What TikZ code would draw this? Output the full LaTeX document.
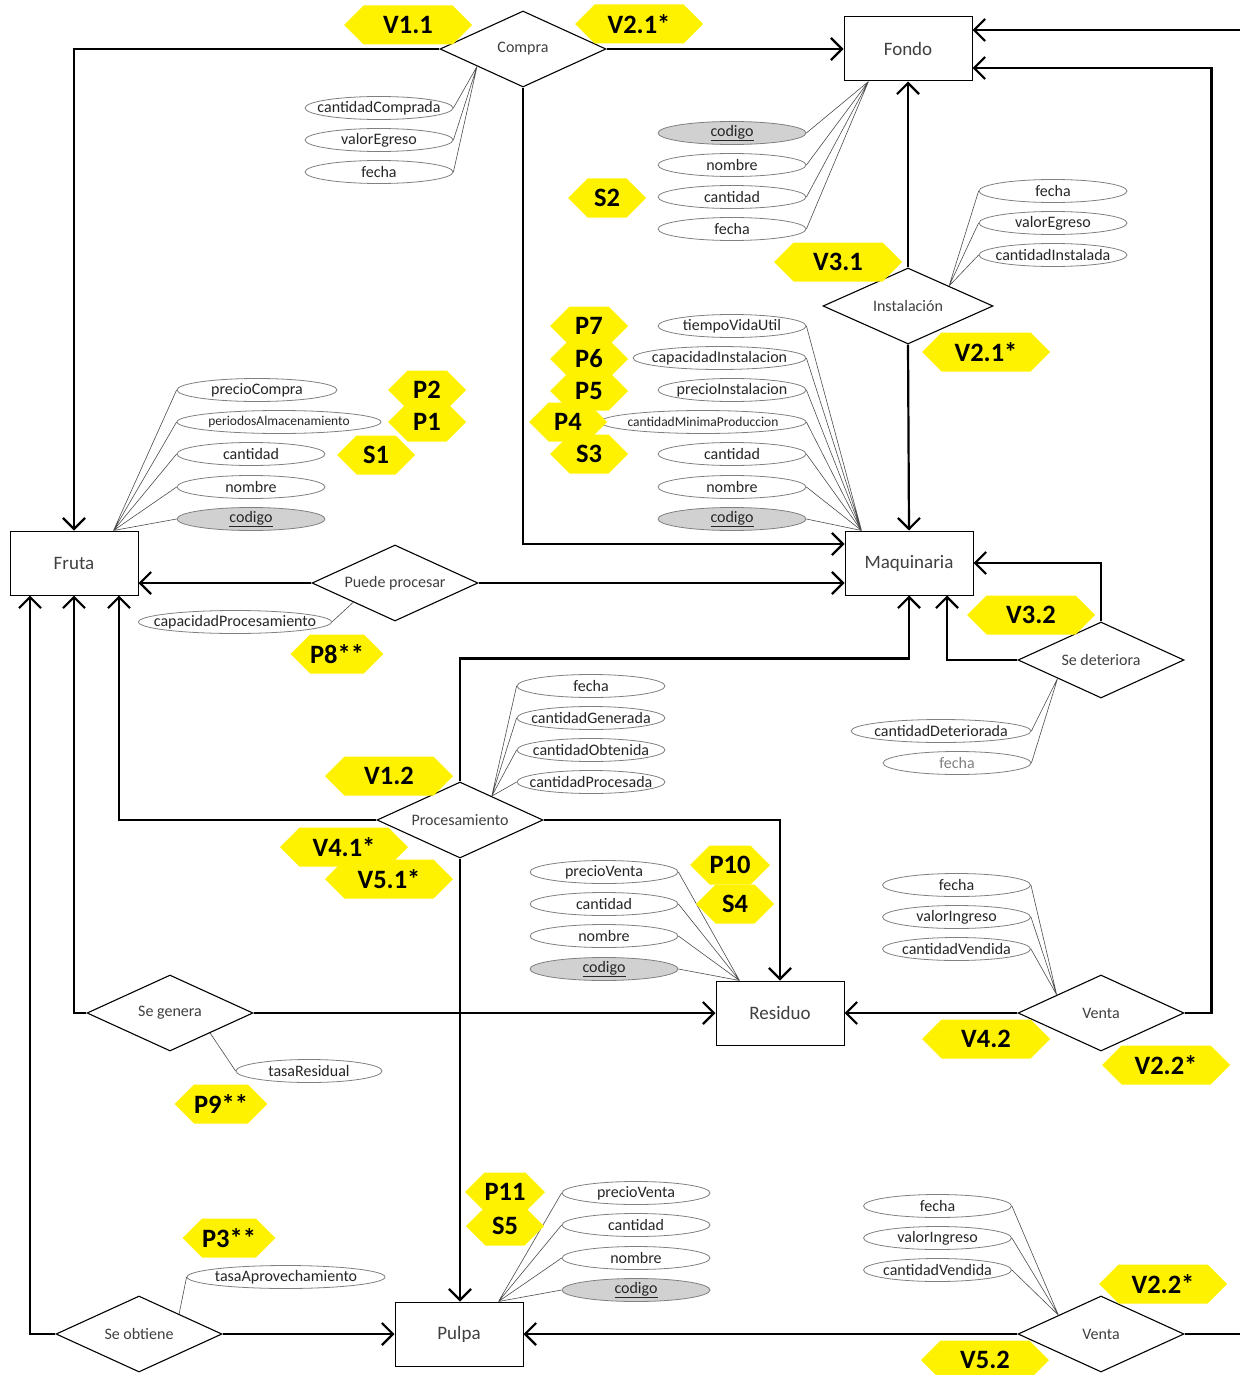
\documentclass[tikz,border=0pt]{standalone}
\usepackage{fontspec}
\setmainfont{Carlito}
\usetikzlibrary{shapes.geometric, shapes.symbols, arrows.meta, calc}
\tikzset{
  entidad/.style={draw, line width=1pt, fill=white, minimum width=128pt, minimum height=64pt, inner sep=0pt, text=black!75, font=\fontsize{19}{19}\selectfont},
  relacion/.style={diamond, draw, line width=1.1pt, fill=white, aspect=2.2, minimum width=166pt, minimum height=76pt, inner sep=0pt, text=black!75, font=\fontsize{16}{16}\selectfont},
  atributo/.style={ellipse, draw=black!50, line width=0.8pt, fill=white, minimum width=148pt, minimum height=23pt, inner xsep=-30pt, inner ysep=0pt, text=black!85, font=\fontsize{16}{16}\selectfont},
  clave/.style={atributo, fill=black!18},
  chico/.style={font=\fontsize{13.5}{13.5}\selectfont},
  enlace/.style={line width=2.2pt, -{Straight Barb[length=11pt, width=22pt]}},
  hilo/.style={draw=black!70, line width=0.6pt},
  marca/.style={signal, signal to=west and east, signal pointer angle=90, fill=yellow, minimum height=39pt, minimum width=128pt, inner sep=0pt, font=\fontsize{26.5}{26.5}\bfseries},
  marcachica/.style={marca, minimum width=78pt}
}

\begin{document}
\begin{tikzpicture}[x=1pt, y=-1pt]
  \useasboundingbox (0,0) rectangle (1239,1375);

  % Entidades
  \node[entidad] (fondo) at (908,49) {Fondo};
  \node[entidad] (fruta) at (74,563) {Fruta};
  \node[entidad] (maquinaria) at (909,563) {Maquinaria};
  \node[entidad] (residuo) at (780,1013) {Residuo};
  \node[entidad] (pulpa) at (459,1334) {Pulpa};

  % Relaciones
  \node[relacion] (compra) at (523,49) {Compra};
  \node[relacion, minimum width=170pt] (instalacion) at (908,306) {Instalación};
  \node[relacion] (puede) at (395,583) {Puede procesar};
  \node[relacion] (deteriora) at (1101,660) {Se deteriora};
  \node[relacion] (procesamiento) at (460,820) {Procesamiento};
  \node[relacion] (genera) at (170,1013) {Se genera};
  \node[relacion] (ventaR) at (1101,1013) {Venta};
  \node[relacion] (obtiene) at (139,1334) {Se obtiene};
  \node[relacion] (ventaP) at (1101,1334) {Venta};

  \draw[enlace] (compra.west) -| (fruta.north);
  \draw[enlace] (compra.east) -- (fondo.west);
  \draw[enlace] (compra.south) |- ([yshift=19pt]maquinaria.west);
  \draw[enlace] (instalacion.north) -- (fondo.south);
  \draw[enlace] (instalacion.south) -- (maquinaria.north);
  \draw[enlace] (puede.west) -- (puede.west -| fruta.east);
  \draw[enlace] (puede.east) -- (puede.east -| maquinaria.west);
  \draw[enlace] (deteriora.north) |- (maquinaria.east);
  \draw[enlace] (deteriora.west) -| ([xshift=38pt]maquinaria.south);
  \draw[enlace] (procesamiento.north) -- ++(0,-123) -| (maquinaria.south);
  \draw[enlace] (procesamiento.west) -| ([xshift=45pt]fruta.south);
  \draw[enlace] (procesamiento.east) -| (residuo.north);
  \draw[enlace] (procesamiento.south) -- (procesamiento.south |- pulpa.north);
  \draw[enlace] (genera.west) -| (fruta.south);
  \draw[enlace] (genera.east) -- (residuo.west);
  \draw[enlace] (ventaR.west) -- (residuo.east);
  \draw[enlace] (ventaR.east) -- ++(27,0) |- ([yshift=-19pt]fondo.east);
  \draw[enlace] (obtiene.west) -| ([xshift=-44pt]fruta.south);
  \draw[enlace] (obtiene.east) -- (pulpa.west);
  \draw[enlace] (ventaP.west) -- (pulpa.east);
  \draw[enlace] (ventaP.east) -- ++(60,0) |- ([yshift=19pt]fondo.east);

  % Puntos de union de los atributos
  \coordinate (cmpA) at ($(compra.west)!0.45!(compra.south)$);
  \coordinate (fonA) at ([xshift=25pt]fondo.south west);
  \coordinate (insA) at ($(instalacion.north)!0.48!(instalacion.east)$);
  \coordinate (fruA) at ([xshift=104pt]fruta.north west);
  \coordinate (pueA) at ($(puede.west)!0.5!(puede.south)$);
  \coordinate (maqA) at ([xshift=17pt]maquinaria.north west);
  \coordinate (detA) at ($(deteriora.west)!0.48!(deteriora.south)$);
  \coordinate (proA) at ($(procesamiento.north)!0.38!(procesamiento.east)$);
  \coordinate (resA) at ([xshift=24pt]residuo.north west);
  \coordinate (genA) at ($(genera.south)!0.48!(genera.east)$);
  \coordinate (vrA) at ($(ventaR.west)!0.47!(ventaR.north)$);
  \coordinate (obtA) at ($(obtiene.north)!0.48!(obtiene.east)$);
  \coordinate (pulA) at ([xshift=-25pt]pulpa.north east);
  \coordinate (vpA) at ($(ventaP.west)!0.49!(ventaP.north)$);

  % Atributos
  \node[atributo] (cmp1) at (379,108) {cantidadComprada};
  \node[atributo] (cmp2) at (379,140) {valorEgreso};
  \node[atributo] (cmp3) at (379,172) {fecha};
  \draw[hilo] (cmp1.east) -- (cmpA) (cmp2.east) -- (cmpA) (cmp3.east) -- (cmpA);

  \node[clave] (fon1) at (732,133) {\underline{codigo}};
  \node[atributo] (fon2) at (732,165) {nombre};
  \node[atributo] (fon3) at (732,197) {cantidad};
  \node[atributo] (fon4) at (732,229) {fecha};
  \draw[hilo] (fon1.east) -- (fonA) (fon2.east) -- (fonA) (fon3.east) -- (fonA) (fon4.east) -- (fonA);

  \node[atributo] (ins1) at (1053,191) {fecha};
  \node[atributo] (ins2) at (1053,223) {valorEgreso};
  \node[atributo] (ins3) at (1053,255) {cantidadInstalada};
  \draw[hilo] (ins1.west) -- (insA) (ins2.west) -- (insA) (ins3.west) -- (insA);

  \node[atributo, minimum width=160pt] (fru1) at (257,390) {precioCompra};
  \node[atributo, chico, minimum width=204pt] (fru2) at (279,422) {periodosAlmacenamiento};
  \node[atributo] (fru3) at (251,454) {cantidad};
  \node[atributo] (fru4) at (251,487) {nombre};
  \node[clave] (fru5) at (251,519) {\underline{codigo}};
  \draw[hilo] (fru1.west) -- (fruA) (fru2.west) -- (fruA) (fru3.west) -- (fruA) (fru4.west) -- (fruA) (fru5.west) -- (fruA);

  \node[atributo, minimum width=193pt] (pue1) at (235,622) {capacidadProcesamiento};
  \draw[hilo] (pue1.east) -- (pueA);

  \node[atributo] (maq1) at (732,326) {tiempoVidaUtil};
  \node[atributo, minimum width=173pt] (maq2) at (719.5,358) {capacidadInstalacion};
  \node[atributo] (maq3) at (732,390) {precioInstalacion};
  \node[atributo, chico, minimum width=206pt] (maq4) at (703,422) {cantidadMinimaProduccion};
  \node[atributo] (maq5) at (732,454) {cantidad};
  \node[atributo] (maq6) at (732,487) {nombre};
  \node[clave] (maq7) at (732,519) {\underline{codigo}};
  \draw[hilo] (maq1.east) -- (maqA) (maq2.east) -- (maqA) (maq3.east) -- (maqA) (maq4.east) -- (maqA)
    (maq5.east) -- (maqA) (maq6.east) -- (maqA) (maq7.east) -- (maqA);

  \node[atributo, minimum width=180pt] (det1) at (941,731) {cantidadDeteriorada};
  \node[atributo, text=black!50] (det2) at (957,763) {fecha};
  \draw[hilo] (det1.east) -- (detA) (det2.east) -- (detA);

  \node[atributo] (pro1) at (591,686) {fecha};
  \node[atributo] (pro2) at (591,718) {cantidadGenerada};
  \node[atributo] (pro3) at (591,750) {cantidadObtenida};
  \node[atributo] (pro4) at (591,782) {cantidadProcesada};
  \draw[hilo] (pro1.west) -- (proA) (pro2.west) -- (proA) (pro3.west) -- (proA) (pro4.west) -- (proA);

  \node[atributo] (res1) at (604,872) {precioVenta};
  \node[atributo] (res2) at (604,904) {cantidad};
  \node[atributo] (res3) at (604,936) {nombre};
  \node[clave] (res4) at (604,969) {\underline{codigo}};
  \draw[hilo] (res1.east) -- (resA) (res2.east) -- (resA) (res3.east) -- (resA) (res4.east) -- (resA);

  \node[atributo, minimum width=146pt] (gen1) at (309,1071) {tasaResidual};
  \draw[hilo] (gen1.west) -- (genA);

  \node[atributo] (vr1) at (956.5,885) {fecha};
  \node[atributo] (vr2) at (956.5,917) {valorIngreso};
  \node[atributo] (vr3) at (956.5,949) {cantidadVendida};
  \draw[hilo] (vr1.east) -- (vrA) (vr2.east) -- (vrA) (vr3.east) -- (vrA);

  \node[atributo, minimum width=198pt] (obt1) at (286,1277) {tasaAprovechamiento};
  \draw[hilo] (obt1.west) -- (obtA);

  \node[atributo] (pul1) at (636,1193) {precioVenta};
  \node[atributo] (pul2) at (636,1225) {cantidad};
  \node[atributo] (pul3) at (636,1258) {nombre};
  \node[clave] (pul4) at (636,1290) {\underline{codigo}};
  \draw[hilo] (pul1.west) -- (pulA) (pul2.west) -- (pulA) (pul3.west) -- (pulA) (pul4.west) -- (pulA);

  \node[atributo] (vp1) at (937.5,1206) {fecha};
  \node[atributo] (vp2) at (937.5,1238) {valorIngreso};
  \node[atributo] (vp3) at (937.5,1270) {cantidadVendida};
  \draw[hilo] (vp1.east) -- (vpA) (vp2.east) -- (vpA) (vp3.east) -- (vpA);

  % Marcas
  \node[marca] (mV11) at (408,25) {V1.1};
  \node[marca] (mV21a) at (639,24) {V2.1*};
  \node[marcachica] (mS2) at (607,198) {S2};
  \node[marca] (mV31) at (838,262) {V3.1};
  \node[marca] (mV21b) at (986,352) {V2.1*};
  \node[marcachica] (mP7) at (589,326) {P7};
  \node[marcachica] (mP6) at (589,359) {P6};
  \node[marcachica] (mP5) at (589,391) {P5};
  \node[marcachica] (mS3) at (589,454) {S3};
  \node[marcachica] (mP4) at (568,422) {P4};
  \node[marcachica] (mP2) at (427,390) {P2};
  \node[marcachica] (mP1) at (427,422) {P1};
  \node[marcachica] (mS1) at (376,455) {S1};
  \node[marcachica] (mP8) at (337,654) {P8**};
  \node[marca] (mV32) at (1031,615) {V3.2};
  \node[marca] (mV12) at (389,776) {V1.2};
  \node[marca] (mV41) at (344,847) {V4.1*};
  \node[marca] (mV51) at (389,879) {V5.1*};
  \node[marcachica] (mS4) at (735,904) {S4};
  \node[marcachica] (mP10) at (730,865) {P10};
  \node[marca] (mV42) at (986,1039) {V4.2};
  \node[marca] (mV22a) at (1166,1065) {V2.2*};
  \node[marcachica] (mP9) at (221,1104) {P9**};
  \node[marcachica] (mS5) at (505,1226) {S5};
  \node[marcachica] (mP11) at (505,1192) {P11};
  \node[marcachica] (mP3) at (229,1238) {P3**};
  \node[marca] (mV22b) at (1163,1284) {V2.2*};
  \node[marca] (mV52) at (985,1360) {V5.2};
\end{tikzpicture}
\end{document}
